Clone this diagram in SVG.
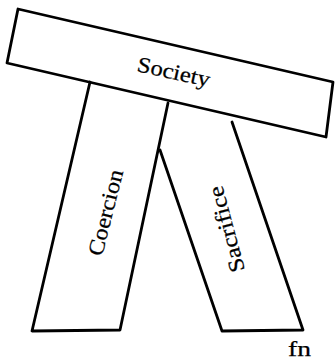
<svg xmlns="http://www.w3.org/2000/svg" width="336" height="362" viewBox="0 0 336 362">
<style>
.ln{fill:none;stroke:#000;stroke-width:2.8;stroke-linecap:round;stroke-linejoin:round}
.lb{font-family:"Liberation Serif","DejaVu Serif",serif;font-size:22px;fill:#000;stroke:#000;stroke-width:0.25}
</style>
<rect width="336" height="362" fill="#fff"/>
<g id="society">
<polygon class="ln" points="18,9 333,82 326,137 7,63"/>
<text class="lb" transform="translate(136,71) rotate(12.5)" textLength="74" lengthAdjust="spacingAndGlyphs">Society</text>
</g>
<g id="coercion">
<polyline class="ln" points="90,82 32,331 120,330 168,103"/>
<text class="lb" transform="translate(102,257) rotate(-76)" textLength="88" lengthAdjust="spacingAndGlyphs">Coercion</text>
</g>
<g id="sacrifice">
<polyline class="ln" points="160,150 222,331 303,330 232,122"/>
<text class="lb" transform="translate(245,270) rotate(-105)" textLength="88" lengthAdjust="spacingAndGlyphs">Sacrifice</text>
</g>
<text class="lb" x="288" y="356" font-size="20" textLength="23" lengthAdjust="spacingAndGlyphs">fn</text>
<g id="connectors"></g>
</svg>
